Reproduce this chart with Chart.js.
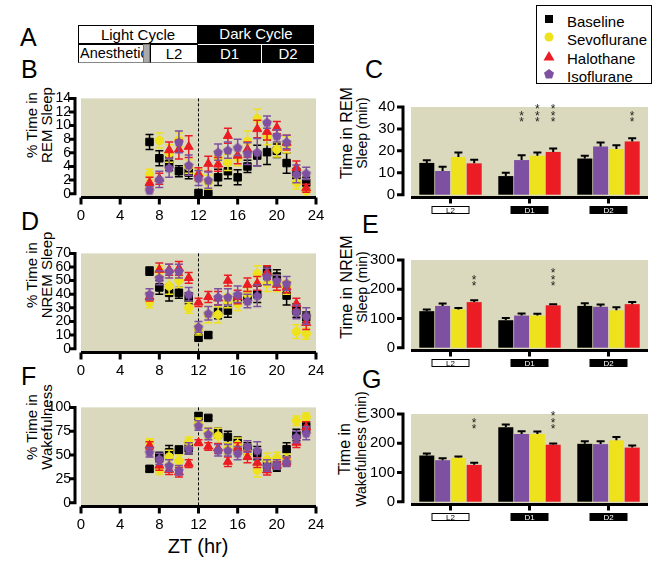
<!DOCTYPE html>
<html>
<head>
<meta charset="utf-8">
<script src="https://cdn.jsdelivr.net/npm/chart.js@4.4.1/dist/chart.umd.min.js"></script>
<style>
body{margin:0;background:#fff;font-family:"Liberation Sans",Arial,sans-serif;color:#000;}
#wrap{position:relative;width:654px;height:563px;overflow:hidden;}
.box{position:absolute;}
.let{position:absolute;font-size:25px;line-height:1;}
.yt{position:absolute;transform:translate(-50%,-50%) rotate(-90deg);white-space:nowrap;line-height:1;}
.cell{position:absolute;box-sizing:border-box;height:19px;font-size:15px;line-height:17px;text-align:center;overflow:hidden;white-space:nowrap;}
.leg{position:absolute;left:536px;top:5px;width:116px;height:79px;box-sizing:border-box;border:1px solid #000;}
.leg div{position:absolute;left:30px;font-size:15px;line-height:1;}
.leg svg{position:absolute;left:5px;}
</style>
</head>
<body>
<div id="wrap">
  <div class="let" style="left:20px;top:25px">A</div>
  <div class="let" style="left:21px;top:57px">B</div>
  <div class="let" style="left:365px;top:57px">C</div>
  <div class="let" style="left:21px;top:209px">D</div>
  <div class="let" style="left:362px;top:212px">E</div>
  <div class="let" style="left:21px;top:364px">F</div>
  <div class="let" style="left:362px;top:367px">G</div>

  <div class="cell" style="left:78px;top:25px;width:120px;border:1px solid #000;background:#fff">Light Cycle</div>
  <div class="cell" style="left:198px;top:25px;width:116px;background:#000;color:#fff">Dark Cycle</div>
  <div class="cell" style="left:78px;top:44px;width:66px;border:1px solid #000;border-bottom-color:#888;text-align:left;padding-left:1px;font-size:14.5px">Anesthetic</div>
  <div class="cell" style="left:143px;top:44px;width:7px;background:#aaa;border:1px solid #777"></div>
  <div class="cell" style="left:150px;top:44px;width:48px;border:1px solid #000;border-bottom-color:#888">L2</div>
  <div class="cell" style="left:198px;top:44px;width:64px;background:#000;color:#fff;border-right:1px solid #fff;border-top:1px solid #fff">D1</div>
  <div class="cell" style="left:262px;top:44px;width:52px;background:#000;color:#fff;border-top:1px solid #fff">D2</div>

  <div class="leg">
    <svg style="top:6px" width="14" height="14"><rect x="3" y="3" width="8" height="8" fill="#000"/></svg>
    <div style="top:8px">Baseline</div>
    <svg style="top:24px" width="14" height="14"><circle cx="7" cy="7" r="4.5" fill="#eee21c"/></svg>
    <div style="top:26px">Sevoflurane</div>
    <svg style="top:43px" width="14" height="14"><polygon points="7,2 12.5,11.5 1.5,11.5" fill="#ec1c24"/></svg>
    <div style="top:45px">Halothane</div>
    <svg style="top:61px" width="14" height="14"><polygon points="7,2 12,5.8 10.1,11.6 3.9,11.6 2,5.8" fill="#7e50a2"/></svg>
    <div style="top:63px">Isoflurane</div>
  </div>

  <div class="yt" style="left:31px;top:125px;font-size:15px">% Time in</div>
  <div class="yt" style="left:46px;top:125px;font-size:15px">REM Sleep</div>
  <div class="yt" style="left:31px;top:275px;font-size:15px">% Time in</div>
  <div class="yt" style="left:46px;top:275px;font-size:15px">NREM Sleep</div>
  <div class="yt" style="left:31px;top:427px;font-size:15px">% Time in</div>
  <div class="yt" style="left:46px;top:427px;font-size:15px">Wakefulness</div>

  <div class="yt" style="left:347px;top:133px;font-size:16px">Time in REM</div>
  <div class="yt" style="left:362px;top:133px;font-size:14px">Sleep (min)</div>
  <div class="yt" style="left:347px;top:287px;font-size:16px">Time in NREM</div>
  <div class="yt" style="left:362px;top:287px;font-size:14px">Sleep (min)</div>
  <div class="yt" style="left:345px;top:449px;font-size:16px">Time in</div>
  <div class="yt" style="left:361px;top:449px;font-size:14px">Wakefulness (min)</div>

  <div style="position:absolute;left:198px;top:546px;transform:translate(-50%,-50%);font-size:20px;white-space:nowrap">ZT (hr)</div>

  <div class="box" style="left:0;top:80px;width:340px;height:150px"><canvas id="cB"></canvas></div>
  <div class="box" style="left:0;top:235px;width:340px;height:150px"><canvas id="cD"></canvas></div>
  <div class="box" style="left:0;top:389px;width:340px;height:150px"><canvas id="cF"></canvas></div>
  <div class="box" style="left:340px;top:82px;width:314px;height:154px"><canvas id="cC"></canvas></div>
  <div class="box" style="left:340px;top:235px;width:314px;height:154px"><canvas id="cE"></canvas></div>
  <div class="box" style="left:340px;top:389px;width:314px;height:154px"><canvas id="cG"></canvas></div>
</div>

<script>
// hours shown in the time course panels
const zt = [7,8,9,10,11,12,13,14,15,16,17,18,19,20,21,22,23];

// B: % REM
const remBase = [7.6,5.2,4.4,3.3,3.1,0.1,0.0,2.4,3.3,2.4,4.0,5.6,6.1,6.3,4.5,2.7,1.6];
const remSevo = [2.8,7.8,5.9,7.9,4.0,2.7,1.7,5.2,4.6,5.3,7.7,11.0,8.4,6.5,7.2,1.6,0.4];
const remHalo = [1.6,2.2,6.4,6.5,6.9,2.9,4.4,4.3,8.5,5.6,6.5,9.5,9.1,9.7,7.5,3.8,0.8];
const remIso  = [0.5,2.1,3.8,7.6,4.2,2.3,2.0,6.1,6.4,6.8,5.9,6.1,10.5,8.5,7.6,2.9,3.0];
const remBaseErr = [1.1,1.1,1.0,0.8,0.9,0.1,0.1,1.2,1.1,1.1,0.9,1.5,1.8,1.0,1.5,1.0,0.8];
const remSevoErr = [0.8,1.1,1.3,1.0,1.0,0.9,1.0,1.0,1.2,1.2,1.5,1.4,1.2,1.1,1.2,0.9,0.5];
const remHaloErr = [0.8,0.8,1.2,1.4,1.6,0.9,1.1,1.0,1.1,1.2,1.1,1.3,1.2,0.9,1.1,1.0,0.6];
const remIsoErr  = [0.5,1.2,1.4,1.6,1.5,1.1,1.2,1.2,1.2,1.2,1.6,2.0,0.9,0.9,1.0,1.3,0.9];

// D: % NREM
const nremBase = [57,45,41,41,37,8,10,27,28,36,38,40,56,53,39,28,23];
const nremSevo = [34,57,46,50,30,14,25,25,35,33,40,55,48,48,45,12.5,11];
const nremHalo = [38,58,58,59,52,34,38,37,50,38,47,48,56,47,45,33,19];
const nremIso  = [40,52,57,57,40,16,26,38,38,40,35,39,53,50,48,27,24];
const nremBaseErr = [3,5,6,4,4,2,2,5,5,4,4,6,4,5,7,5,4];
const nremSevoErr = [4,4,6,5,4,4,6,6,5,5,5,6,6,6,5,5,4];
const nremHaloErr = [3,5,4,5,4,3,4,5,4,5,5,5,5,4,4,4,5];
const nremIsoErr  = [4,5,5,5,5,4,5,6,6,6,5,8,6,4,5,5,6];

// F: % wake
const wakeBase = [35.5,48,53,55.5,57,91,89,73,69,63,57,52,40,38,56,71,80];
const wakeSevo = [63,34.5,48,44,64,84,73,70,57,61,53,34,45,47,45,86,90];
const wakeHalo = [60,39,34.5,32,41,63,59,57,43,57,48,42,34,39,43,63,79];
const wakeIso  = [53,46,39,34,57,81,72,55,55,52,59,55,39,40,43,69,73];
const wakeBaseErr = [3,5,7,4,6,3,2,5,6,6,6,7,6,5,7,6,5];
const wakeSevoErr = [4,5,7,6,5,5,6,8,6,7,7,7,7,6,6,5,4];
const wakeHaloErr = [4,5,5,5,4,3,4,5,5,6,6,5,5,4,4,5,6];
const wakeIsoErr  = [5,6,6,5,6,5,6,6,6,7,6,9,6,5,5,6,7];

// C, E, G: minutes per period
const periods = ["L2","D1","D2"];
const cBase = [14.5,8.5,16.5], cIso = [10.8,15.8,22.0], cSevo = [17.2,17.8,20.8], cHalo = [14.3,19.5,24.3];
const cBaseErr = [1.2,1.5,1.3], cIsoErr = [2.0,2.2,1.8], cSevoErr = [2.0,1.5,1.8], cHaloErr = [1.6,1.6,1.4];
const eBase = [125,94,143], eIso = [143,110,140], eSevo = [131,110,128], eHalo = [156,145,149];
const eBaseErr = [6,8,9], eIsoErr = [8,7,8], eSevoErr = [5,6,10], eHaloErr = [6,4,7];
const gBase = [158,255,198], gIso = [142,232,197], gSevo = [150,232,210], gHalo = [126,195,185];
const gBaseErr = [7,9,9], gIsoErr = [7,9,10], gSevoErr = [5,8,11], gHaloErr = [7,4,7];

// significance marks: period index, bar index (0 base,1 iso,2 sevo,3 halo), number of stars
const cStars = [[1,1,2],[1,2,3],[1,3,3],[2,3,2]];
const eStars = [[0,3,2],[1,3,3]];
const gStars = [[0,3,2],[1,3,3]];

const BLACK = "#000000", YEL = "#eee21c", RED = "#ec1c24", PUR = "#7e50a2";
const BG = "rgb(219,217,189)";

Chart.defaults.font.family = "'Liberation Sans', Arial, sans-serif";
Chart.defaults.color = "#000";

function pentagon(color, r){
    const c = document.createElement("canvas");
    const s = Math.ceil(r*2 + 2);
    c.width = c.height = s;
    const g = c.getContext("2d");
    g.fillStyle = color;
    g.beginPath();
    for(let i=0;i<5;i++){
        const a = -Math.PI/2 + i*2*Math.PI/5;
        const px = s/2 + r*Math.cos(a), py = s/2 + r*Math.sin(a) + r*0.1;
        if(i) g.lineTo(px,py); else g.moveTo(px,py);
    }
    g.closePath(); g.fill();
    return c;
}
const isoMark = pentagon(PUR, 5);

function drawErr(chart, i, both){
    const ds = chart.data.datasets[i];
    if(!ds.errors) return;
    const meta = chart.getDatasetMeta(i);
    const ys = chart.scales.y;
    const ctx = chart.ctx;
    ctx.save();
    ctx.strokeStyle = both ? ds.errColor : "#000";
    ctx.lineWidth = both ? 1.5 : 2;
    const cap = 4;
    meta.data.forEach((el, j)=>{
        const v = both ? ds.data[j].y : ds.data[j];
        const e = ds.errors[j];
        const yt = ys.getPixelForValue(v + e);
        const yb = both ? ys.getPixelForValue(Math.max(v - e, 0)) : ys.getPixelForValue(v);
        ctx.beginPath();
        ctx.moveTo(el.x, yb); ctx.lineTo(el.x, yt);
        ctx.moveTo(el.x - cap, yt); ctx.lineTo(el.x + cap, yt);
        if(both && v - e > 0){ ctx.moveTo(el.x - cap, yb); ctx.lineTo(el.x + cap, yb); }
        ctx.stroke();
    });
    ctx.restore();
}

const prism = {
    id: "prism",
    beforeDatasetsDraw(chart, args, o){
        const {ctx, chartArea:a} = chart;
        ctx.save();
        ctx.fillStyle = BG;
        ctx.fillRect(a.left, a.top, a.right - a.left, a.bottom - a.top);
        if(o.kind === "time"){
            const x = chart.scales.x.getPixelForValue(12);
            ctx.strokeStyle = "#000"; ctx.lineWidth = 1; ctx.setLineDash([3,2]);
            ctx.beginPath(); ctx.moveTo(x, a.top); ctx.lineTo(x, a.bottom + 1); ctx.stroke();
        }
        ctx.restore();
    },
    beforeDatasetDraw(chart, args, o){ if(o.kind === "time") drawErr(chart, args.index, true); },
    afterDatasetDraw(chart, args, o){ if(o.kind === "bar") drawErr(chart, args.index, false); },
    afterDraw(chart, args, o){
        const {ctx, chartArea:a} = chart;
        const xs = chart.scales.x, ys = chart.scales.y;
        ctx.save();
        ctx.strokeStyle = "#000"; ctx.lineWidth = 3; ctx.lineCap = "butt";
        // offset y axis
        const ax = a.left - (o.kind === "time" ? 6 : 8);
        ctx.beginPath();
        ctx.moveTo(ax, ys.getPixelForValue(ys.max) - 1.5);
        ctx.lineTo(ax, ys.getPixelForValue(0) + 1.5);
        ys.ticks.forEach(t=>{
            const p = ys.getPixelForValue(t.value);
            ctx.moveTo(ax, p); ctx.lineTo(ax - 6, p);
        });
        // x axis
        const ay = a.bottom + 1.5;
        ctx.moveTo(a.left, ay); ctx.lineTo(a.right, ay);
        if(o.kind === "time"){
            xs.ticks.forEach(t=>{
                const p = xs.getPixelForValue(t.value);
                ctx.moveTo(p, ay); ctx.lineTo(p, ay + 7);
            });
        } else {
            chart.data.labels.forEach((l, i)=>{
                const p = xs.getPixelForValue(i);
                ctx.moveTo(p, ay); ctx.lineTo(p, ay + 6);
            });
        }
        ctx.stroke();

        if(o.kind === "bar"){
            // period boxes under the axis
            ctx.lineWidth = 1;
            ctx.font = "8px 'Liberation Sans', Arial";
            ctx.textAlign = "center"; ctx.textBaseline = "middle";
            chart.data.labels.forEach((l, i)=>{
                const p = xs.getPixelForValue(i);
                const bx = p - 19, by = a.bottom + 10;
                if(l === "L2"){
                    ctx.fillStyle = "#fff"; ctx.fillRect(bx, by, 38, 8);
                    ctx.strokeStyle = "#000"; ctx.strokeRect(bx + 0.5, by + 0.5, 37, 7);
                    ctx.fillStyle = "#000";
                } else {
                    ctx.fillStyle = "#000"; ctx.fillRect(bx, by, 38, 8);
                    ctx.fillStyle = "#fff";
                }
                ctx.fillText(l, p, by + 4.5);
            });
            // stars
            ctx.fillStyle = "#222";
            ctx.font = "12px 'Liberation Sans', Arial";
            ctx.textBaseline = "alphabetic";
            const base = ys.getPixelForValue(o.starLevel);
            o.stars.forEach(s=>{
                const el = chart.getDatasetMeta(s[1]).data[s[0]];
                for(let k=0;k<s[2];k++) ctx.fillText("*", el.x, base - k*6.7 + 4);
            });
        }
        ctx.restore();
    }
};

function pts(arr){ return zt.map((x,i)=>({x:x, y:arr[i]})); }

function timeChart(id, yMax, yStep, base, sevo, halo, iso){
    const gap = 2.5, h = 105;
    const pad = gap*yMax/(h - gap);
    const yTicks = [];
    for(let v=0; v<=yMax; v+=yStep) yTicks.push(v);
    const sets = [
        { data: pts(iso[0]), errors: iso[1], errColor: PUR, pointStyle: isoMark, pointRadius: 5 },
        { data: pts(halo[0]), errors: halo[1], errColor: RED, pointStyle: "triangle", pointRadius: 5.2, backgroundColor: RED, borderColor: RED },
        { data: pts(sevo[0]), errors: sevo[1], errColor: YEL, pointStyle: "circle", pointRadius: 4.2, backgroundColor: YEL, borderColor: YEL },
        { data: pts(base[0]), errors: base[1], errColor: BLACK, pointStyle: "rect", pointRadius: 5.3, backgroundColor: BLACK, borderColor: BLACK }
    ];
    sets.forEach(s=>{ s.showLine = false; s.pointBorderWidth = 1; s.pointHoverRadius = s.pointRadius; });
    return new Chart(document.getElementById(id), {
        type: "scatter",
        data: { datasets: sets },
        options: {
            responsive: true, maintainAspectRatio: false, animation: false,
            layout: { padding: { left: 0, top: 11, right: 24, bottom: 0 } },
            plugins: { legend: { display: false }, tooltip: { enabled: false }, prism: { kind: "time" } },
            scales: {
                x: { type: "linear", min: 0, max: 24,
                     ticks: { stepSize: 4, padding: 11, autoSkip: false, maxRotation: 0, font: { size: 15 }, color: "#000" },
                     grid: { display: false, drawTicks: false }, border: { display: false },
                     afterFit: s => { s.height = 34; } },
                y: { min: -pad, max: yMax,
                     afterBuildTicks: s => { s.ticks = yTicks.map(v=>({value:v})); },
                     ticks: { padding: 10, autoSkip: false, font: { size: 14 }, color: "#000" },
                     grid: { display: false, drawTicks: false }, border: { display: false },
                     afterFit: s => { s.width = 81; } }
            }
        },
        plugins: [prism]
    });
}

function barChart(id, yMax, yStep, series, stars, starLevel){
    const gap = 1.5, h = 103;
    const pad = gap*yMax/(h - gap);
    const yTicks = [];
    for(let v=0; v<=yMax; v+=yStep) yTicks.push(v);
    const cols = [BLACK, PUR, YEL, RED];
    const sets = series.map((s, i)=>({
        data: s[0], errors: s[1], backgroundColor: cols[i], borderWidth: 0,
        categoryPercentage: 0.8, barPercentage: 0.95
    }));
    return new Chart(document.getElementById(id), {
        type: "bar",
        data: { labels: periods, datasets: sets },
        options: {
            responsive: true, maintainAspectRatio: false, animation: false,
            layout: { padding: { left: 0, top: 11, right: 6, bottom: 0 } },
            plugins: { legend: { display: false }, tooltip: { enabled: false },
                       prism: { kind: "bar", stars: stars, starLevel: starLevel } },
            scales: {
                x: { ticks: { display: false }, grid: { display: false, drawTicks: false }, border: { display: false },
                     afterFit: s => { s.height = 40; } },
                y: { min: -pad, max: yMax,
                     afterBuildTicks: s => { s.ticks = yTicks.map(v=>({value:v})); },
                     ticks: { padding: 16, autoSkip: false, font: { size: 15 }, color: "#000" },
                     grid: { display: false, drawTicks: false }, border: { display: false },
                     afterFit: s => { s.width = 71; } }
            }
        },
        plugins: [prism]
    });
}

timeChart("cB", 14, 2, [remBase, remBaseErr], [remSevo, remSevoErr], [remHalo, remHaloErr], [remIso, remIsoErr]);
timeChart("cD", 70, 10, [nremBase, nremBaseErr], [nremSevo, nremSevoErr], [nremHalo, nremHaloErr], [nremIso, nremIsoErr]);
timeChart("cF", 100, 25, [wakeBase, wakeBaseErr], [wakeSevo, wakeSevoErr], [wakeHalo, wakeHaloErr], [wakeIso, wakeIsoErr]);

barChart("cC", 40, 10, [[cBase,cBaseErr],[cIso,cIsoErr],[cSevo,cSevoErr],[cHalo,cHaloErr]], cStars, 33);
barChart("cE", 300, 100, [[eBase,eBaseErr],[eIso,eIsoErr],[eSevo,eSevoErr],[eHalo,eHaloErr]], eStars, 210);
barChart("cG", 300, 100, [[gBase,gBaseErr],[gIso,gIsoErr],[gSevo,gSevoErr],[gHalo,gHaloErr]], gStars, 248);
</script>
</body>
</html>
